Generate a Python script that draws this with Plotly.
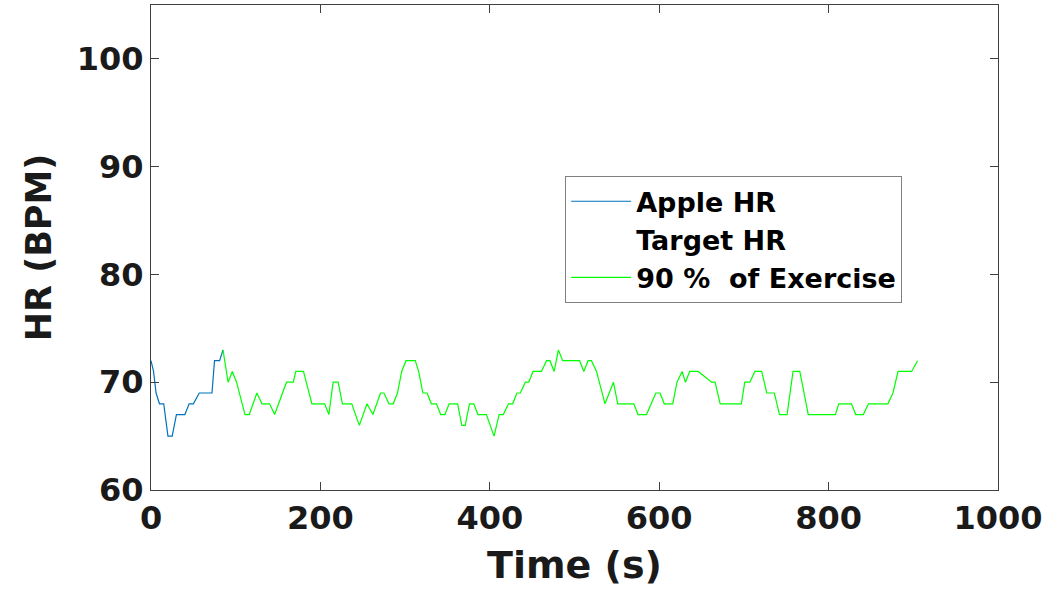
import plotly.graph_objects as go

# Apple HR (blue segment)
apple_t = [0, 3, 6, 10, 15, 20, 25, 30, 40, 45, 50, 57, 72, 75, 81, 85]
apple_hr = [72, 71, 69, 68, 68, 65, 65, 67, 67, 68, 68, 69, 69, 72, 72, 73]

# 90 % of Exercise (green segment)
ex_t = [85, 91, 96, 101, 111, 116, 125, 131, 140, 146, 160, 168, 171, 180, 190, 205,
        210, 215, 221, 226, 237, 246, 255, 262, 271, 275, 281, 286, 291, 296, 301, 312,
        316, 321, 326, 331, 337, 342, 347, 352, 362, 367, 371, 376, 381, 386, 396, 405,
        411, 416, 422, 427, 432, 436, 442, 446, 451, 461, 467, 471, 476, 481, 486, 506,
        511, 516, 520, 526, 536, 546, 551, 570, 575, 585, 596, 601, 606, 616, 621, 627,
        631, 636, 646, 662, 666, 672, 697, 701, 707, 713, 721, 727, 736, 742, 751, 758,
        766, 774, 776, 808, 812, 827, 832, 841, 847, 870, 876, 882, 898, 905]
ex_hr = [73, 70, 71, 70, 67, 67, 69, 68, 68, 67, 70, 70, 71, 71, 68, 68,
         67, 70, 70, 68, 68, 66, 68, 67, 69, 69, 68, 68, 69, 71, 72, 72,
         71, 69, 69, 68, 68, 67, 67, 68, 68, 66, 66, 68, 68, 67, 67, 65,
         67, 67, 68, 68, 69, 69, 70, 70, 71, 71, 72, 72, 71, 73, 72, 72,
         71, 72, 72, 71, 68, 70, 68, 68, 67, 67, 69, 69, 68, 68, 70, 71,
         70, 71, 71, 70, 70, 68, 68, 70, 70, 71, 71, 69, 69, 67, 67, 71,
         71, 68, 67, 67, 68, 68, 67, 67, 68, 68, 69, 71, 71, 72]

# Target HR (no visible samples in the reference)
target_t = [None]
target_hr = [None]

x_ticks = [0, 200, 400, 600, 800, 1000]
y_ticks = [60, 70, 80, 90, 100]

fig = go.Figure()
fig.add_trace(go.Scatter(x=apple_t, y=apple_hr, mode="lines", name="Apple HR",
                         line=dict(color="#0072BD", width=1.2)))
fig.add_trace(go.Scatter(x=target_t, y=target_hr, mode="lines", name="Target HR",
                         line=dict(color="rgba(255,255,255,0)", width=1.2)))
fig.add_trace(go.Scatter(x=ex_t, y=ex_hr, mode="lines", name="90 %  of Exercise",
                         line=dict(color="#00FF00", width=1.2)))

axis_common = dict(
    showgrid=False, zeroline=False, showline=True, linecolor="#404040", linewidth=1,
    mirror="ticks", ticks="inside", ticklen=8, tickcolor="#404040",
    tickfont=dict(family="DejaVu Sans", size=32, color="#1a1a1a", weight="bold"),
)

fig.update_layout(
    width=1052, height=590,
    margin=dict(l=151, r=54, t=5, b=100),
    paper_bgcolor="white", plot_bgcolor="white",
    xaxis=dict(range=[0, 1000], tickvals=x_ticks, ticktext=[str(v) for v in x_ticks],
               title=dict(text="Time (s)",
                          font=dict(family="DejaVu Sans", size=38, color="#1a1a1a", weight="bold"),
                          standoff=14),
               **axis_common),
    yaxis=dict(range=[60, 105], tickvals=y_ticks, ticktext=[str(v) for v in y_ticks],
               title=dict(text="HR (BPM)",
                          font=dict(family="DejaVu Sans", size=35, color="#1a1a1a", weight="bold"),
                          standoff=14),
               **axis_common),
    legend=dict(x=0.489, y=0.647, xanchor="left", yanchor="top",
                bgcolor="white", bordercolor="#808080", borderwidth=1,
                font=dict(family="DejaVu Sans", size=27, color="black", weight="bold"),
                itemwidth=60),
    showlegend=True,
)

fig.write_html("out.html", config={"displayModeBar": False},
               post_script="document.body.style.margin='0px';")
